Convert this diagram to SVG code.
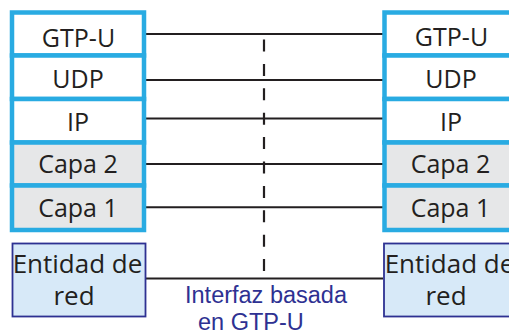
<svg xmlns="http://www.w3.org/2000/svg" width="509" height="333" viewBox="0 0 509 333">
  <style>
    .layer { stroke: #29abe2; stroke-width: 4.5; }
    .upper { fill: #ffffff; }
    .lower { fill: #e6e7e8; }
    .entity { fill: #d7e9f8; stroke: #2e3192; stroke-width: 1.8; }
    .t { font-family: "Open Sans", "Noto Sans", sans-serif; font-size: 25px; fill: #231f20; text-anchor: middle; }
    .big { font-size: 26px; }
    .link { stroke: #231f20; stroke-width: 2; fill: none; }
    .dash { stroke: #231f20; stroke-width: 2.2; fill: none; stroke-dasharray: 12 12.4; stroke-dashoffset: -5.5; }
    .note { font-family: "Liberation Sans", Arial, sans-serif; font-size: 23.5px; fill: #2e3192; }
  </style>

  <rect width="509" height="333" fill="#ffffff"/>

  <!-- connectors between peer layers -->
  <g id="connectors">
    <line class="link" x1="146" y1="34" x2="383" y2="34"/>
    <line class="link" x1="146" y1="80" x2="383" y2="80"/>
    <line class="link" x1="146" y1="118.5" x2="383" y2="118.5"/>
    <line class="link" x1="146" y1="164" x2="383" y2="164"/>
    <line class="link" x1="146" y1="207.3" x2="383" y2="207.3"/>
    <line class="link" x1="146" y1="278.5" x2="383" y2="278.5"/>
    <line class="dash" x1="264" y1="34" x2="264" y2="278.5"/>
  </g>

  <!-- left protocol stack -->
  <g id="left-gtpu">
    <rect class="layer upper" x="12" y="12.5" width="132" height="43"/>
    <text class="t" x="78.5" y="46.7">GTP-U</text>
  </g>
  <g id="left-udp">
    <rect class="layer upper" x="12" y="55.5" width="132" height="43.5"/>
    <text class="t" x="78" y="87.5">UDP</text>
  </g>
  <g id="left-ip">
    <rect class="layer upper" x="12" y="99" width="132" height="43.5"/>
    <text class="t" x="78" y="131">IP</text>
  </g>
  <g id="left-capa2">
    <rect class="layer lower" x="12" y="142.5" width="132" height="43"/>
    <text class="t" x="78" y="173.3">Capa 2</text>
  </g>
  <g id="left-capa1">
    <rect class="layer lower" x="12" y="185.5" width="132" height="44.5"/>
    <text class="t" x="78" y="217">Capa 1</text>
  </g>

  <!-- right protocol stack -->
  <g id="right-gtpu">
    <rect class="layer upper" x="384.5" y="12.5" width="132" height="43"/>
    <text class="t" x="451.5" y="46">GTP-U</text>
  </g>
  <g id="right-udp">
    <rect class="layer upper" x="384.5" y="55.5" width="132" height="43.5"/>
    <text class="t" x="451" y="87.5">UDP</text>
  </g>
  <g id="right-ip">
    <rect class="layer upper" x="384.5" y="99" width="132" height="43.5"/>
    <text class="t" x="451" y="131">IP</text>
  </g>
  <g id="right-capa2">
    <rect class="layer lower" x="384.5" y="142.5" width="132" height="43"/>
    <text class="t" x="450.5" y="173.3">Capa 2</text>
  </g>
  <g id="right-capa1">
    <rect class="layer lower" x="384.5" y="185.5" width="132" height="44.5"/>
    <text class="t" x="450.5" y="217">Capa 1</text>
  </g>

  <!-- network entities -->
  <g id="left-entity">
    <rect class="entity" x="12.5" y="243.5" width="133" height="73"/>
    <text class="t big" x="77.5" y="273">Entidad de</text>
    <text class="t big" x="74" y="305">red</text>
  </g>
  <g id="right-entity">
    <rect class="entity" x="384" y="243.5" width="133" height="73"/>
    <text class="t big" x="449.5" y="273">Entidad de</text>
    <text class="t big" x="446" y="305">red</text>
  </g>

  <!-- interface label -->
  <g id="interface-label">
    <text class="note" x="185" y="302.7">Interfaz basada</text>
    <text class="note" x="198" y="329.5">en GTP-U</text>
  </g>
</svg>
